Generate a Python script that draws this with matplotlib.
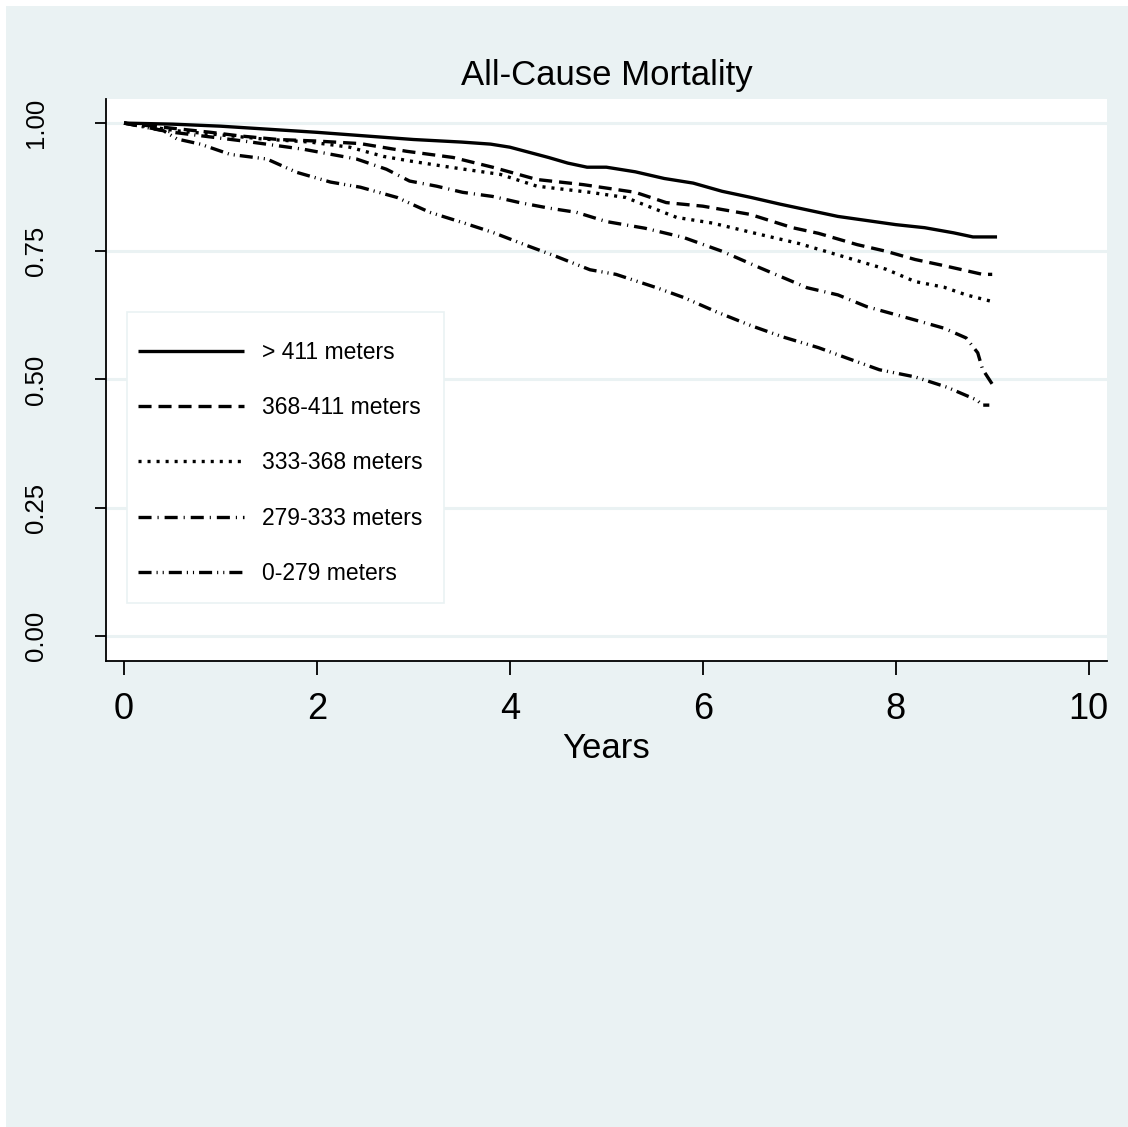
import matplotlib
matplotlib.use('Agg')
import matplotlib.pyplot as plt
from matplotlib.patches import Rectangle

# ---------------- dados (Kaplan-Meier) ----------------
labels = ['> 411 meters', '368-411 meters', '333-368 meters', '279-333 meters', '0-279 meters']

t_411 = [0, 0.5, 1.0, 1.5, 2.0, 2.5, 3.0, 3.5, 3.8, 4.0, 4.2, 4.4, 4.6, 4.8, 5.0, 5.3, 5.6,
         5.9, 6.2, 6.5, 6.8, 7.1, 7.4, 7.7, 8.0, 8.3, 8.6, 8.8, 9.05]
s_411 = [1.0, 0.998, 0.994, 0.988, 0.982, 0.975, 0.968, 0.963, 0.959, 0.953, 0.943, 0.933,
         0.922, 0.914, 0.914, 0.905, 0.892, 0.883, 0.867, 0.855, 0.842, 0.83, 0.818, 0.81,
         0.802, 0.796, 0.786, 0.778, 0.778]

t_368 = [0, 0.4, 0.9, 1.2, 1.6, 2.0, 2.45, 2.93, 3.41, 3.82, 4.28, 4.76, 5.3, 5.62, 6.0,
         6.49, 6.93, 7.2, 7.6, 7.9, 8.2, 8.5, 8.9, 9.0]
s_368 = [1.0, 0.992, 0.982, 0.975, 0.968, 0.965, 0.96, 0.945, 0.933, 0.914, 0.89, 0.88,
         0.865, 0.845, 0.838, 0.822, 0.796, 0.785, 0.763, 0.75, 0.734, 0.722, 0.705, 0.705]

t_333 = [0, 0.55, 1.0, 1.44, 1.93, 2.34, 2.69, 3.0, 3.38, 3.9, 4.28, 4.83, 5.2, 5.73, 6.1,
         6.59, 7.0, 7.56, 7.9, 8.2, 8.5, 8.73, 9.0]
s_333 = [1.0, 0.985, 0.977, 0.969, 0.963, 0.953, 0.935, 0.925, 0.914, 0.9, 0.877, 0.865,
         0.855, 0.816, 0.805, 0.783, 0.765, 0.734, 0.715, 0.691, 0.68, 0.665, 0.652]

t_279 = [0, 0.51, 1.24, 1.86, 2.41, 2.72, 2.96, 3.24, 3.51, 3.82, 4.1, 4.41, 4.69, 5.0, 5.4,
         5.8, 6.2, 6.59, 7.08, 7.4, 7.7, 8.2, 8.5, 8.73, 8.85, 8.9, 9.0]
s_279 = [1.0, 0.982, 0.965, 0.949, 0.93, 0.91, 0.887, 0.877, 0.865, 0.857, 0.845, 0.834,
         0.826, 0.808, 0.795, 0.777, 0.75, 0.718, 0.679, 0.665, 0.642, 0.616, 0.6, 0.581,
         0.552, 0.52, 0.491]

t_0 = [0, 0.41, 0.55, 0.79, 1.1, 1.48, 1.79, 2.14, 2.45, 2.83, 3.17, 3.51, 3.82, 4.18, 4.48,
       4.83, 5.1, 5.52, 5.8, 6.14, 6.5, 6.83, 7.2, 7.49, 7.83, 8.2, 8.53, 8.84, 8.9, 8.97]
s_0 = [1.0, 0.985, 0.969, 0.959, 0.939, 0.93, 0.904, 0.885, 0.875, 0.855, 0.826, 0.806,
       0.787, 0.761, 0.74, 0.714, 0.705, 0.679, 0.66, 0.632, 0.605, 0.583, 0.562, 0.542,
       0.519, 0.505, 0.485, 0.46, 0.45, 0.45]

x_ticks = [0, 2, 4, 6, 8, 10]
y_ticks = [0.0, 0.25, 0.5, 0.75, 1.0]
y_ticklabels = ['0.00', '0.25', '0.50', '0.75', '1.00']

# ---------------- estilo ----------------
bg = '#eaf2f3'
fonte = ['Liberation Sans', 'DejaVu Sans']
plt.rcParams['lines.scale_dashes'] = False

estilos = ['-',
           (0, (9.4, 5.0)),
           (0, (2.2, 4.3)),
           (0, (9.4, 4.3, 0.8, 4.3)),
           (0, (9.4, 3.6, 0.8, 3.6, 0.8, 3.6))]

fig = plt.figure(figsize=(11.28, 11.27), dpi=100, facecolor='white')
# fundo cinza-azulado com margem branca no topo e a esquerda
fig.patches.append(Rectangle((6 / 1128, 0), 1122 / 1128, 1121 / 1127,
                             transform=fig.transFigure, facecolor=bg, edgecolor='none', zorder=-10))

ax = fig.add_axes([106 / 1128, 1 - 661 / 1127, (1107 - 106) / 1128, (661 - 99) / 1127])
ax.set_facecolor('white')

series = [(t_411, s_411), (t_368, s_368), (t_333, s_333), (t_279, s_279), (t_0, s_0)]
for (t, s), ls, lab in zip(series, estilos, labels):
    ax.plot(t, s, color='black', lw=2.4, linestyle=ls, label=lab,
            dash_capstyle='butt', solid_capstyle='butt')

ax.set_xlim(-0.187, 10.19)
ax.set_ylim(-0.049, 1.047)

for yv in y_ticks:
    ax.axhline(yv, color=bg, lw=2.2, zorder=0)

ax.spines['top'].set_visible(False)
ax.spines['right'].set_visible(False)
ax.spines['left'].set_linewidth(1.3)
ax.spines['bottom'].set_linewidth(1.3)

ax.set_xticks(x_ticks)
ax.set_xticklabels([str(v) for v in x_ticks], family=fonte, fontsize=26)
ax.set_yticks(y_ticks)
ax.set_yticklabels(y_ticklabels, family=fonte, fontsize=18.5, rotation=90, va='center')
ax.tick_params(axis='x', length=10, width=1.3, pad=12)
ax.tick_params(axis='y', length=8, width=1.3, pad=34)

ax.set_xlabel('Years', family=fonte, fontsize=25, labelpad=4)
ax.set_title('All-Cause Mortality', family=fonte, fontsize=25, pad=10)

# caixa da legenda desenhada a parte (abaixo do texto da legenda)
ax.add_patch(Rectangle((127 / 1128, 1 - 603 / 1127), (444 - 127) / 1128, (603 - 312) / 1127,
                       transform=fig.transFigure, facecolor='white', edgecolor=bg,
                       lw=1.2, zorder=4, clip_on=False))
leg = ax.legend(loc='upper left', bbox_to_anchor=(133 / 1128, 1 - 336 / 1127),
                bbox_transform=fig.transFigure, borderaxespad=0, frameon=False,
                prop={'family': fonte, 'size': 16.5}, handlelength=4.65, handletextpad=0.78,
                labelspacing=1.41, borderpad=0.2)
leg.set_zorder(6)

fig.savefig('out.png', dpi=100, facecolor=fig.get_facecolor())
